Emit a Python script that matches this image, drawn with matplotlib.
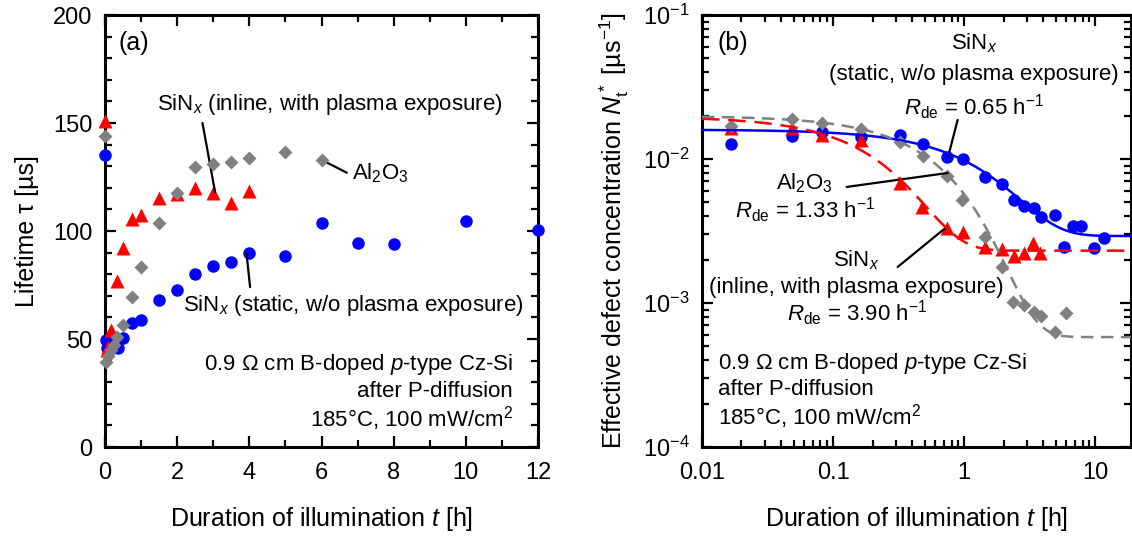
import numpy as np
import matplotlib
matplotlib.use("Agg")
import matplotlib.pyplot as plt
from matplotlib.ticker import MultipleLocator, LogLocator, FuncFormatter, NullFormatter

plt.rcParams['font.family'] = ['Liberation Sans', 'DejaVu Sans']
plt.rcParams['mathtext.fontset'] = 'custom'
plt.rcParams['mathtext.rm'] = 'Liberation Sans'
plt.rcParams['mathtext.it'] = 'Liberation Sans:italic'
plt.rcParams['mathtext.bf'] = 'Liberation Sans:bold'
plt.rcParams['font.size'] = 16

BLUE = "#0000ff"
RED = "#ff0000"
GREY = "#808080"

# (a) lifetime vs time, linear axis
t_blue_a = [0, 0.02, 0.05, 0.17, 0.37, 0.5, 0.74, 1.0, 1.5, 2.0, 2.5, 3.0, 3.5, 4.0, 5.0, 6.0, 7.0, 8.0, 10.0, 12.0]
tau_blue_a = [135, 49.5, 46, 47, 46, 50.5, 57.5, 59, 68, 72.7, 80, 84, 85.5, 90, 88.6, 103.8, 94.3, 94, 104.8, 100.6]
t_red_a = [0, 0.05, 0.09, 0.17, 0.32, 0.5, 0.74, 1.0, 1.5, 2.0, 2.5, 3.0, 3.5, 4.0]
tau_red_a = [151, 45, 46.5, 54, 77, 92, 105.5, 107.5, 115.5, 117, 120, 117.5, 113, 118.5]
t_grey_a = [0, 0.02, 0.08, 0.17, 0.25, 0.33, 0.5, 0.74, 1.0, 1.5, 2.0, 2.5, 3.0, 3.5, 4.0, 5.0, 6.0]
tau_grey_a = [144, 39.5, 42, 45, 47, 51, 56.5, 69.6, 83.2, 103.8, 117.7, 129.8, 131, 132, 134, 136.4, 132.9]

# (b) defect concentration vs time, log axes
t_blue_b = [0.0168, 0.049, 0.082, 0.162, 0.326, 0.489, 0.734, 0.98, 1.43, 1.94, 2.38, 2.85, 3.43, 3.86, 4.92, 5.8, 6.8, 7.74, 9.77, 11.6]
N_blue_b = [0.0127, 0.0145, 0.0155, 0.0143, 0.0147, 0.0127, 0.0104, 0.00995, 0.00754, 0.0067, 0.0052, 0.0047, 0.00455, 0.00398, 0.00408, 0.00246, 0.00343, 0.00343, 0.0024, 0.00281]
t_red_b = [0.0168, 0.049, 0.082, 0.162, 0.326, 0.475, 0.734, 0.98, 1.43, 1.94, 2.38, 2.87, 3.34, 3.8]
N_red_b = [0.0165, 0.0165, 0.0147, 0.0136, 0.00684, 0.00467, 0.0033, 0.00313, 0.00244, 0.00236, 0.00212, 0.00221, 0.00263, 0.00224]
t_grey_b = [0.0168, 0.049, 0.082, 0.162, 0.326, 0.489, 0.734, 0.96, 1.43, 1.94, 2.35, 2.87, 3.43, 3.86, 4.92, 5.96]
N_grey_b = [0.0169, 0.0189, 0.0177, 0.0161, 0.0132, 0.0105, 0.0076, 0.0052, 0.00286, 0.00179, 0.00102, 0.00097, 0.00087, 0.00081, 0.00063, 0.00085]

# exponential deactivation fits: blue, red, grey
fit_R = [0.65, 3.90, 1.33]
fit_N0 = [0.0160, 0.0197, 0.0199]
fit_Ninf = [0.00292, 0.00231, 0.00058]


def style_axis(ax):
    for s in ax.spines.values():
        s.set_linewidth(2.2)
    ax.tick_params(which='both', direction='in', top=True, right=True, width=1.6, labelsize=17)
    ax.tick_params(which='major', length=8)
    ax.tick_params(which='minor', length=5)


fig = plt.figure(figsize=(11.32, 5.4), dpi=100)
ax1 = fig.add_axes([0.0928, 0.1722, 0.3825, 0.8])
ax2 = fig.add_axes([0.6201, 0.1722, 0.379, 0.8])

# ---- panel (a)
ax1.plot(t_blue_a, tau_blue_a, 'o', color=BLUE, ms=9, mec='none', clip_on=False, zorder=3)
ax1.plot(t_red_a, tau_red_a, '^', color=RED, ms=9.5, mec='none', clip_on=False, zorder=3)
ax1.plot(t_grey_a, tau_grey_a, 'D', color=GREY, ms=7.5, mec='none', clip_on=False, zorder=4)
ax1.set_xlim(0, 12)
ax1.set_ylim(0, 200)
ax1.xaxis.set_major_locator(MultipleLocator(2))
ax1.xaxis.set_minor_locator(MultipleLocator(1))
ax1.yaxis.set_major_locator(MultipleLocator(50))
ax1.yaxis.set_minor_locator(MultipleLocator(10))
style_axis(ax1)
ax1.tick_params(axis='x', pad=11)
ax1.tick_params(axis='y', pad=9)
ax1.set_xlabel("Duration of illumination $t$ [h]", fontsize=18, labelpad=15)
ax1.set_ylabel("Lifetime τ [µs]", fontsize=18, labelpad=10)

ax1.text(0.36, 187, "(a)", ha='left', va='center', fontsize=18)
ax1.text(1.44, 158.8, "SiN$_x$ (inline, with plasma exposure)", ha='left', va='center')
ax1.text(6.84, 126.9, "Al$_2$O$_3$", ha='left', va='center')
ax1.text(2.16, 65.7, "SiN$_x$ (static, w/o plasma exposure)", ha='left', va='center')
ax1.text(11.3, 38, "0.9 Ω cm B-doped $p$-type Cz-Si", ha='right', va='center')
ax1.text(11.3, 25.5, "after P-diffusion", ha='right', va='center')
ax1.text(11.3, 13.4, "185°C, 100 mW/cm$^2$", ha='right', va='center')
line = dict(arrowstyle='-', color='black', lw=1.6, shrinkA=0, shrinkB=0)
ax1.annotate("", xy=(3.05, 118), xytext=(2.7, 150), arrowprops=line)
ax1.annotate("", xy=(6.05, 132.5), xytext=(6.7, 127), arrowprops=line)
ax1.annotate("", xy=(3.92, 89.8), xytext=(4.02, 74), arrowprops=line)

# ---- panel (b)
ax2.set_xscale('log')
ax2.set_yscale('log')
ax2.plot(t_blue_b, N_blue_b, 'o', color=BLUE, ms=9, mec='none', zorder=3)
ax2.plot(t_red_b, N_red_b, '^', color=RED, ms=9.5, mec='none', zorder=3)
ax2.plot(t_grey_b, N_grey_b, 'D', color=GREY, ms=7.5, mec='none', zorder=3)

tt = np.logspace(-2, np.log10(20), 300)
fit_styles = [(BLUE, '-', None), (RED, '--', (7, 3.5)), (GREY, '--', (5, 3))]
for (c, ls, dash), R, N0, Ninf in zip(fit_styles, fit_R, fit_N0, fit_Ninf):
    ln, = ax2.plot(tt, (N0 - Ninf) * np.exp(-R * tt) + Ninf, ls, color=c, lw=1.8, zorder=4)
    if dash:
        ln.set_dashes(dash)

ax2.set_xlim(0.01, 18.7)
ax2.set_ylim(1e-4, 1e-1)
ax2.xaxis.set_major_locator(LogLocator(base=10, numticks=10))
ax2.xaxis.set_minor_locator(LogLocator(base=10, subs=np.arange(2, 10), numticks=20))
ax2.xaxis.set_major_formatter(FuncFormatter(lambda v, p: "%g" % v))
ax2.xaxis.set_minor_formatter(NullFormatter())
ax2.yaxis.set_major_locator(LogLocator(base=10, numticks=10))
ax2.yaxis.set_minor_locator(LogLocator(base=10, subs=np.arange(2, 10), numticks=20))
ax2.yaxis.set_minor_formatter(NullFormatter())
style_axis(ax2)
ax2.tick_params(axis='x', pad=11)
ax2.tick_params(axis='y', pad=9)
ax2.set_xlabel("Duration of illumination $t$ [h]", fontsize=18, labelpad=15)
ax2.set_ylabel("Effective defect concentration $N_\\mathrm{t}^*$ [µs$^{-1}$]", fontsize=18, labelpad=8)

ax2.text(0.0132, 0.064, "(b)", ha='left', va='center', fontsize=18)
ax2.text(1.2, 0.064, "SiN$_x$", ha='center', va='center')
ax2.text(1.18, 0.0389, "(static, w/o plasma exposure)", ha='center', va='center')
ax2.text(1.18, 0.023, "$R_\\mathrm{de}$ = 0.65 h$^{-1}$", ha='center', va='center')
ax2.text(0.0608, 0.0068, "Al$_2$O$_3$", ha='center', va='center')
ax2.text(0.0608, 0.00443, "$R_\\mathrm{de}$ = 1.33 h$^{-1}$", ha='center', va='center')
ax2.text(0.151, 0.00199, "SiN$_x$", ha='center', va='center')
ax2.text(0.151, 0.00129, "(inline, with plasma exposure)", ha='center', va='center')
ax2.text(0.153, 0.000853, "$R_\\mathrm{de}$ = 3.90 h$^{-1}$", ha='center', va='center')
ax2.text(0.0132, 0.000383, "0.9 Ω cm B-doped $p$-type Cz-Si", ha='left', va='center')
ax2.text(0.0132, 0.000249, "after P-diffusion", ha='left', va='center')
ax2.text(0.0132, 0.000162, "185°C, 100 mW/cm$^2$", ha='left', va='center')
ax2.annotate("", xy=(0.76, 0.01067), xytext=(0.891, 0.01866), arrowprops=line)
ax2.annotate("", xy=(0.748, 0.0080), xytext=(0.127, 0.0064), arrowprops=line)
ax2.annotate("", xy=(0.734, 0.00337), xytext=(0.311, 0.00178), arrowprops=line)

fig.savefig("out.png", dpi=100)
